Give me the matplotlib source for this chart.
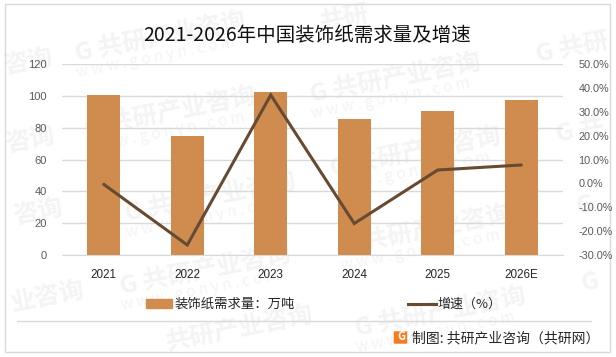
import numpy as np
import matplotlib.pyplot as plt
from matplotlib.patches import Rectangle, FancyBboxPatch

plt.rcParams['font.family'] = ['Noto Sans CJK SC', 'DejaVu Sans']
NUM_FONT = ['Liberation Sans', 'Noto Sans CJK SC']

years = ['2021', '2022', '2023', '2024', '2025', '2026E']
demand = [100.7, 74.8, 102.6, 85.6, 90.6, 97.6]
growth = [-0.4, -25.8, 37.0, -16.8, 5.6, 7.7]

left_ticks = [0, 20, 40, 60, 80, 100, 120]
right_ticks = [-30, -20, -10, 0, 10, 20, 30, 40, 50]

title = '2021-2026年中国装饰纸需求量及增速'
bar_label = '装饰纸需求量：万吨'
line_label = '增速（%）'
source = '制图: 共研产业咨询（共研网）'
mark_cn = 'G 共研产业咨询'
mark_en = 'w w w . g o n y n . c o m'

# watermark centres in pixels, the ones at the picture edge use part of the text
mark_full = [(160, 37), (395, 78), (170, 112), (415, 152), (210, 197),
             (425, 230), (205, 270), (440, 312)]
mark_part = [(28, 62, '咨询'), (30, 140, '咨询'), (38, 212, '咨询'), (48, 297, '业咨询'),
             (572, 48, 'G 共研'), (580, 130, 'G 共'), (585, 205, 'G'), (590, 282, 'G'),
             (345, 18, '共研'), (240, 328, '共研产业咨询')]

W, H = 616, 357
BAR = '#d08b4e'
LINE = '#674a32'
GRID = '#d9d9d9'
MARK = '#f4f4f4'

fig = plt.figure(figsize=(W / 100, H / 100), dpi=100)


def fx(x):
    return x / W


def fy(y):
    return 1 - y / H


# frame
fig.add_artist(Rectangle((fx(4.5), fy(352)), fx(605.5), (352 - 3.5) / H, fill=False,
                         edgecolor=GRID, linewidth=1, transform=fig.transFigure))

# watermark
for x, y in mark_full:
    fig.text(fx(x), fy(y), mark_cn, fontsize=18, fontweight='bold', color=MARK,
             rotation=11, ha='center', va='center', rotation_mode='anchor', zorder=0)
    fig.text(fx(x - 4), fy(y + 20), mark_en, fontsize=11, color=MARK,
             rotation=11, ha='center', va='center', rotation_mode='anchor', zorder=0)
for x, y, s in mark_part:
    fig.text(fx(x), fy(y), s, fontsize=18, fontweight='bold', color=MARK,
             rotation=11, ha='center', va='center', rotation_mode='anchor', zorder=0)

ax = fig.add_axes([fx(62), fy(255), fx(501), 191 / H], zorder=2)
ax.patch.set_alpha(0)
x = np.arange(len(years))
ax.bar(x, demand, width=0.4, color=BAR, zorder=2)
ax.set_xlim(-0.5, 5.5)
ax.set_ylim(0, 120)
ax.set_yticks(left_ticks)
ax.set_xticks(x)
ax.set_xticklabels(years, family=NUM_FONT)
ax.set_yticklabels(left_ticks, family=NUM_FONT)
ax.grid(axis='y', color=GRID, linewidth=1, zorder=1)
ax.set_axisbelow(True)
ax.tick_params(axis='y', length=0, labelsize=8, labelcolor='#595959', pad=11)
ax.tick_params(axis='x', length=0, labelsize=8.4, labelcolor='#262626', pad=10)
for s in ['top', 'left', 'right']:
    ax.spines[s].set_visible(False)
ax.spines['bottom'].set_color(GRID)

ax2 = ax.twinx()
ax2.set_zorder(3)
ax2.plot(x, growth, color=LINE, linewidth=2.2, solid_capstyle='round', solid_joinstyle='miter')
ax2.set_ylim(-30, 50)
ax2.set_yticks(right_ticks)
ax2.set_yticklabels([f'{t:.1f}%' for t in right_ticks], family=NUM_FONT)
ax2.tick_params(axis='y', length=0, labelsize=7.8, labelcolor='#595959', pad=11)
for s in ax2.spines.values():
    s.set_visible(False)

fig.text(fx(307), fy(35), title, fontsize=14, color='#111111', ha='center', va='center')

# legend
fig.add_artist(Rectangle((fx(146), fy(308)), fx(26), 9 / H, color=BAR, transform=fig.transFigure))
fig.text(fx(175), fy(304), bar_label, fontsize=9.6, color='#262626', ha='left', va='center')
fig.add_artist(plt.Line2D([fx(408), fx(436)], [fy(304), fy(304)], color=LINE, linewidth=2.2,
                          transform=fig.transFigure))
fig.text(fx(437), fy(304), line_label, fontsize=9.4, color='#262626', ha='left', va='center')

# footer
fig.add_artist(plt.Line2D([fx(17), fx(591)], [fy(321), fy(321)], color=GRID, linewidth=1,
                          transform=fig.transFigure))
fig.add_artist(FancyBboxPatch((fx(395), fy(343)), fx(11), 11 / H, boxstyle='round,pad=0.002',
                              facecolor='#f47b20', edgecolor='none', transform=fig.transFigure))
fig.text(fx(401), fy(337), 'G', fontsize=8, fontweight='bold', color='white', ha='center', va='center')
fig.text(fx(412), fy(338), source, fontsize=10, color='#262626', ha='left', va='center')

plt.savefig('out.png', dpi=100)
